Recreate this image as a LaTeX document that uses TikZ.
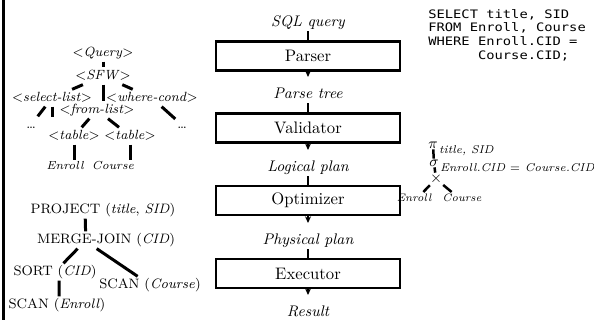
\documentclass[tikz,border=0pt]{standalone}
\usepackage{fontspec}
\usepackage{tikz}
\usetikzlibrary{arrows.meta, positioning, calc}
\newfontfamily\sqlfont[FakeStretch=1.18]{DejaVu Sans Mono}

\tikzset{
    stage/.style={draw, line width=1.5pt, minimum width=110.4pt, minimum height=17.4pt, inner sep=0pt, font=\fontsize{10}{12}\selectfont},
    flowlabel/.style={font=\fontsize{9.2}{11}\selectfont\itshape, text height=7pt, text depth=2pt, inner sep=1pt},
    flowline/.style={line width=1pt},
    flowarrow/.style={line width=1pt, -{Stealth[length=4pt, width=3.6pt]}, shorten >=4.5pt},
    tlabel/.style={font=\fontsize{8}{9.6}\selectfont, text height=6pt, text depth=2pt, inner sep=1pt},
    leaf/.style={font=\fontsize{7}{8.4}\selectfont\itshape, text height=5pt, text depth=1.5pt, inner sep=1pt},
    plan/.style={font=\fontsize{8.2}{9.8}\selectfont, text height=6pt, text depth=2pt, inner sep=1pt},
    edge/.style={line width=1.8pt},
    algedge/.style={line width=1.5pt},
    alg/.style={font=\fontsize{9}{10}\selectfont, inner sep=0.5pt},
    algsub/.style={font=\fontsize{6.8}{8}\selectfont\itshape, inner sep=0pt, anchor=north west},
    algleaf/.style={font=\fontsize{6.5}{7.5}\selectfont\itshape, text height=4.8pt, text depth=1.2pt, inner sep=1pt},
    sqltext/.style={font=\sqlfont\fontsize{7}{8.2}\selectfont, align=left, inner sep=0pt, anchor=north west}
}

\begin{document}
\begin{tikzpicture}[x=0.6pt, y=-0.6pt]
    \useasboundingbox (0,0) rectangle (594,320);

    % left rule
    \draw[line width=1.8pt] (3,0) -- (3,320);

    % pipeline
    \node[flowlabel] (sqlq) at (308,22) {SQL query};
    \node[stage] (parser) at (308,56) {Parser};
    \node[flowlabel] (ptree) at (308,94) {Parse tree};
    \node[stage] (validator) at (308,128) {Validator};
    \node[flowlabel] (lplan) at (308,167) {Logical plan};
    \node[stage] (optimizer) at (308,200.5) {Optimizer};
    \node[flowlabel] (pplan) at (308,240) {Physical plan};
    \node[stage] (executor) at (308,273.5) {Executor};
    \node[flowlabel] (result) at (308,312) {Result};

    \foreach \a/\b in {sqlq/parser, ptree/validator, lplan/optimizer, pplan/executor} {
        \draw[flowline] (\a) -- (\b);
    }
    \foreach \a/\b in {parser/ptree, validator/lplan, optimizer/pplan, executor/result} {
        \draw[flowarrow] (\a) -- (\b);
    }

    % SQL text
    \node[sqltext] (sql) at (428,9) {SELECT title, SID\\FROM Enroll, Course\\WHERE Enroll.CID =\\\phantom{WHERE\ }Course.CID;};

    % parse tree
    \node[tlabel] (query) at (103,53) {$<$\textit{Query}$>$};
    \node[tlabel] (sfw) at (103,76) {$<$\textit{SFW}$>$};
    \node[tlabel] (sellist) at (52,98) {$<$\textit{select-list}$>$};
    \node[tlabel] (wcond) at (152,98) {$<$\textit{where-cond}$>$};
    \node[tlabel] (fromlist) at (97,110) {$<$\textit{from-list}$>$};
    \node[tlabel] (dotsl) at (31,125) {\dots};
    \node[tlabel] (dotsr) at (182,125) {\dots};
    \node[tlabel] (tablel) at (74,136) {$<$\textit{table}$>$};
    \node[tlabel] (tabler) at (130,136) {$<$\textit{table}$>$};
    \node[leaf] (enroll) at (65,167) {Enroll};
    \node[leaf] (course) at (113,167) {Course};
    \coordinate (slstub) at (52,117);

    \draw[edge] (query) -- (sfw);
    \draw[edge] (sfw) -- (sellist);
    \draw[edge] (sfw) -- (sfw |- fromlist.north);
    \draw[edge] (sfw) -- (wcond);
    \draw[edge] (sellist) -- (dotsl);
    \draw[edge] (sellist.south) -- (slstub);
    \draw[edge] (wcond) -- (dotsr);
    \draw[edge] (fromlist) -- (tablel);
    \draw[edge] (fromlist) -- (tabler);
    \draw[edge] (tablel.south) -- (tablel.south |- enroll.north);
    \draw[edge] (tabler.south) -- (tabler.south |- course.north);

    % physical plan
    \node[plan] (project) at (103,210) {PROJECT (\textit{title}, \textit{SID})};
    \node[plan] (mjoin) at (106,240) {MERGE-JOIN (\textit{CID})};
    \node[plan] (sort) at (55,272) {SORT (\textit{CID})};
    \node[plan] (scanc) at (150,285) {SCAN (\textit{Course})};
    \node[plan] (scane) at (57,305) {SCAN (\textit{Enroll})};

    \draw[edge] (project.206) -- (mjoin.157);
    \draw[edge] (mjoin.197) -- (sort.46);
    \draw[edge] (mjoin.223) -- (scanc.145);
    \draw[edge] (sort.296) -- (scane.76);

    % logical plan
    \node[alg] (pi) at (433,145) {$\pi$};
    \node[algsub] (pisub) at (pi.east) {title, SID};
    \node[alg] (sigma) at (434,163) {$\sigma$};
    \node[algsub] (sigmasub) at (sigma.east) {Enroll.CID \upshape=\itshape\ Course.CID};
    \node[alg] (times) at (436,179) {$\times$};
    \node[algleaf] (alenroll) at (414,199) {Enroll};
    \node[algleaf] (alcourse) at (462,199) {Course};

    \draw[algedge] (pi) -- (sigma);
    \draw[algedge] (sigma) -- (times);
    \draw[algedge] (times) -- (alenroll.37);
    \draw[algedge] (times) -- (alcourse.146);
\end{tikzpicture}
\end{document}
